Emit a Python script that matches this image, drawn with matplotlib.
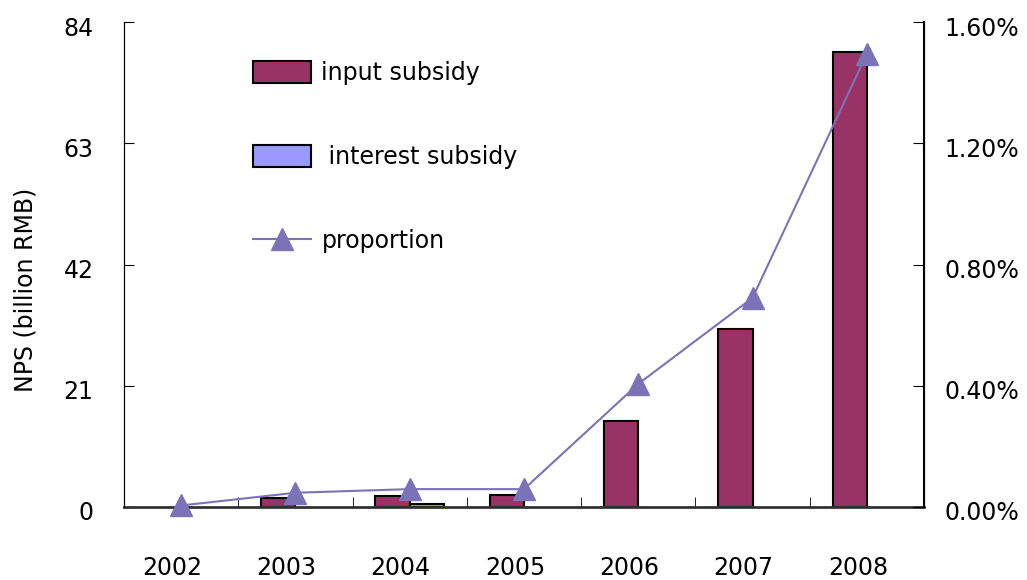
import numpy as np
import matplotlib.pyplot as plt
import matplotlib.patches as mpatches
import matplotlib.transforms as mtransforms

years = ['2002', '2003', '2004', '2005', '2006', '2007', '2008']
input_subsidy = [0.0, 1.5, 1.9, 2.1, 14.9, 30.8, 78.8]
interest_subsidy = [0.0, 0.0, 0.5, 0.0, 0.0, 0.0, 0.0]
proportion = [0.005, 0.047, 0.059, 0.059, 0.406, 0.69, 1.495]

left_ticks = [0, 21, 42, 63, 84]
right_ticks = [0.0, 0.4, 0.8, 1.2, 1.6]

plt.rcParams['font.family'] = ['DejaVu Sans']
fig = plt.figure(figsize=(10.27, 5.8), dpi=100)
ax = fig.add_axes([124/1027, 1-507/580, 800/1027, 485/580])

x = np.arange(len(years))
w = 0.3
# no outline on empty bars
ax.bar(x - w/2, input_subsidy, w, color='#993366', edgecolor='black',
       lw=[1.5 if v > 0 else 0 for v in input_subsidy])
ax.bar(x + w/2, interest_subsidy, w, color='#9999FF', edgecolor='black',
       lw=[1.5 if v > 0 else 0 for v in interest_subsidy])
ax.set_xlim(-0.5, len(years) - 0.5)
ax.set_ylim(0, 84)
ax.set_yticks(left_ticks)
ax.set_xticks(x)
ax.set_xticklabels(years)
ax.set_xticks(np.arange(0.5, len(years) - 1, 1), minor=True)
ax.tick_params(axis='x', which='major', length=0, pad=35, labelsize=17)
ax.tick_params(axis='x', which='minor', direction='in', length=7)
ax.tick_params(axis='y', direction='in', length=7, pad=22, labelsize=17)
xoff = mtransforms.ScaledTranslation(-9/100, 0, fig.dpi_scale_trans)
for lab in ax.get_xticklabels():
    lab.set_transform(lab.get_transform() + xoff)
yoff = mtransforms.ScaledTranslation(0, -4/100, fig.dpi_scale_trans)
for lab in ax.get_yticklabels():
    lab.set_transform(lab.get_transform() + yoff)
ax.set_ylabel('NPS (billion RMB)', fontsize=17)
ax.yaxis.set_label_coords(-0.1075, 0.447)
ax.spines['top'].set_visible(False)
ax.spines['bottom'].set_linewidth(2)
ax.spines['bottom'].set_color('#333333')

ax2 = ax.twinx()
ln, = ax2.plot(x, proportion, color='#7B72B8', lw=1.5, marker='^', ms=16,
               clip_on=False)
ax2.set_ylim(0, 1.6)
ax2.set_yticks(right_ticks)
ax2.set_yticklabels(['%.2f%%' % v for v in right_ticks])
ax2.tick_params(axis='y', direction='in', length=8, pad=15, labelsize=17)
for lab in ax2.get_yticklabels():
    lab.set_transform(lab.get_transform() + yoff)
ax2.spines['top'].set_visible(False)
ax2.spines['right'].set_linewidth(1.5)
ax2.spines['bottom'].set_visible(False)

h1 = mpatches.Patch(facecolor='#993366', edgecolor='black', lw=1.5)
h2 = mpatches.Patch(facecolor='#9999FF', edgecolor='black', lw=1.5)
ax2.legend([h1, h2, ln], ['input subsidy', ' interest subsidy', 'proportion'],
           loc='upper left', bbox_to_anchor=(253/1027, 1-61/580),
           bbox_transform=fig.transFigure, frameon=False, fontsize=17,
           borderpad=0, borderaxespad=0, labelspacing=2.55,
           handlelength=2.45, handleheight=1.05, handletextpad=0.45)

fig.savefig('out.png', dpi=100)
